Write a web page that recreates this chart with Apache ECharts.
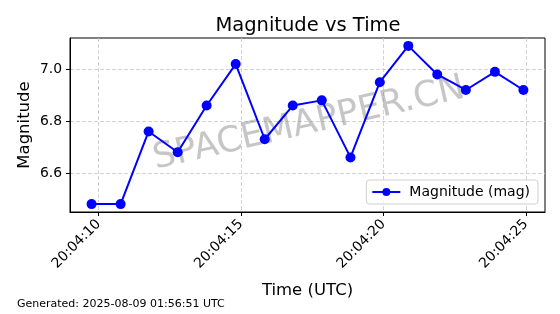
<!DOCTYPE html>
<html>
<head>
<meta charset="utf-8">
<script src="https://cdn.jsdelivr.net/npm/echarts@6/dist/echarts.min.js"></script>
<style>
html,body{margin:0;padding:0;background:#fff;}
#c{width:560px;height:314px;}
</style>
</head>
<body>
<div id="c"></div>
<script>
// seconds after 20:04:00 UTC
var timeSeconds = [9.754, 10.773, 11.756, 12.775, 13.793, 14.812, 15.831, 16.814, 17.833, 18.84, 19.87, 20.87, 21.886, 22.89, 23.91, 24.91];
var magnitudes = [6.48, 6.48, 6.76, 6.68, 6.86, 7.02, 6.73, 6.86, 6.88, 6.66, 6.95, 7.09, 6.98, 6.92, 6.99, 6.92];
var xTickValues = [10, 15, 20, 25];
var xTickLabels = ['20:04:10', '20:04:15', '20:04:20', '20:04:25'];
var yTickValues = [6.6, 6.8, 7.0];
var seriesName = 'Magnitude (mag)';

var FONT = 'DejaVu Sans';
function padExtent(arr) {
  var mn = Math.min.apply(null, arr), mx = Math.max.apply(null, arr);
  var r = mx - mn;
  return [mn - 0.05 * r, mx + 0.05 * r];
}
var xExt = padExtent(timeSeconds);
var yExt = padExtent(magnitudes);
var points = timeSeconds.map(function (t, i) { return [t, magnitudes[i]]; });

var chart = echarts.init(document.getElementById('c'), null, {renderer: 'canvas'});
var gridLine = {show: true, lineStyle: {color: '#c8c8c8', width: 0.8, type: [4, 2]}};
chart.setOption({
  animation: false,
  backgroundColor: '#ffffff',
  title: {
    text: 'Magnitude vs Time', left: 303, top: 11, textAlign: 'center',
    textStyle: {fontFamily: FONT, fontSize: 19.5, fontWeight: 'normal', color: '#000'}
  },
  grid: {left: 70, right: 15, top: 38, bottom: 102, show: true, borderColor: '#000', borderWidth: 1, backgroundColor: 'transparent'},
  legend: {
    right: 22, top: 180, orient: 'horizontal',
    data: [seriesName],
    itemWidth: 28, itemHeight: 10, itemGap: 6,
    borderColor: '#d0d0d0', borderWidth: 1, borderRadius: 3,
    padding: [5, 8, 5, 5],
    backgroundColor: 'rgba(255,255,255,0.8)',
    textStyle: {fontFamily: FONT, fontSize: 14, color: '#000', padding: [0, 0, 0, 4]}
  },
  xAxis: {
    type: 'value', min: xExt[0], max: xExt[1],
    name: 'Time (UTC)', nameLocation: 'middle', nameGap: 70,
    nameTextStyle: {fontFamily: FONT, fontSize: 16.5, color: '#000'},
    axisLine: {show: true, onZero: false, lineStyle: {color: '#000', width: 1}},
    axisTick: {show: true, length: 4, customValues: xTickValues, lineStyle: {color: '#000'}},
    axisLabel: {
      customValues: xTickValues, rotate: 45, margin: 10,
      fontFamily: FONT, fontSize: 13.9, color: '#000',
      formatter: function (v) {
        var i = xTickValues.indexOf(Math.round(v));
        return i >= 0 ? xTickLabels[i] : '';
      }
    },
    splitLine: gridLine
  },
  yAxis: {
    type: 'value', min: yExt[0], max: yExt[1],
    name: 'Magnitude', nameLocation: 'middle', nameGap: 37, nameRotate: 90,
    nameMoveOverlap: false,
    nameTextStyle: {fontFamily: FONT, fontSize: 16.5, color: '#000'},
    axisLine: {show: true, onZero: false, lineStyle: {color: '#000', width: 1}},
    axisTick: {show: true, length: 4, customValues: yTickValues, lineStyle: {color: '#000'}},
    axisLabel: {
      customValues: yTickValues, margin: 8,
      fontFamily: FONT, fontSize: 13.9, color: '#000',
      formatter: function (v) { return v.toFixed(1); }
    },
    splitLine: gridLine
  },
  graphic: [
    {
      type: 'text', x: 309, y: 124, rotation: 13 * Math.PI / 180, z: 1,
      style: {text: 'SPACEMAPPER.CN', font: '35.5px "DejaVu Sans"', fill: 'rgba(128,128,128,0.45)', textAlign: 'center', textVerticalAlign: 'middle'}
    },
    {
      type: 'text', left: 17, top: 299,
      style: {text: 'Generated: 2025-08-09 01:56:51 UTC', font: '11px "DejaVu Sans"', fill: '#000'}
    }
  ],
  series: [{
    name: seriesName, type: 'line', data: points, z: 5,
    symbol: 'circle', symbolSize: 10, showSymbol: true,
    lineStyle: {color: '#0000ff', width: 2},
    itemStyle: {color: '#0000ff'}
  }]
});
</script>
</body>
</html>
